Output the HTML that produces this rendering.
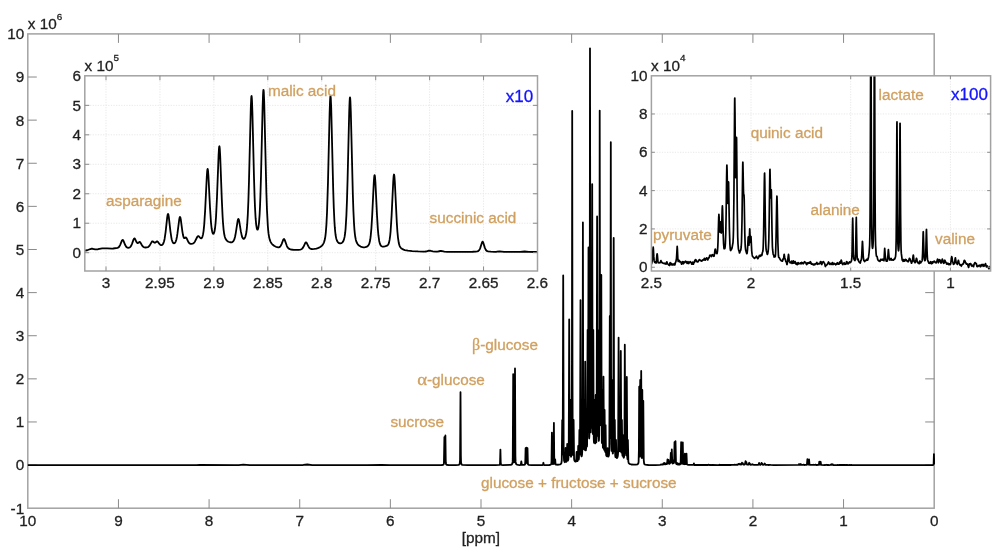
<!DOCTYPE html>
<html lang="en">
<head>
<meta charset="utf-8">
<title>1H NMR spectrum</title>
<style>
html,body{margin:0;padding:0;background:#fff;}
body{width:1000px;height:552px;overflow:hidden;font-family:"Liberation Sans",Arial,Helvetica,sans-serif;}
svg{display:block;}
</style>
</head>
<body>
<svg width="1000" height="552" viewBox="0 0 1000 552">
<rect width="1000" height="552" fill="#fff"/>
<g id="main">
<g stroke="#8a8a8a" stroke-width="1" fill="none" shape-rendering="auto">
<rect x="27.8" y="33.9" width="906.4" height="474.3" stroke="#a2a2a2" stroke-width="1.5"/>
<path d="M843.56 508.2v-9M843.56 33.9v9M752.92 508.2v-9M752.92 33.9v9M662.28 508.2v-9M662.28 33.9v9M571.64 508.2v-9M571.64 33.9v9M481 508.2v-9M481 33.9v9M390.36 508.2v-9M390.36 33.9v9M299.72 508.2v-9M299.72 33.9v9M209.08 508.2v-9M209.08 33.9v9M118.44 508.2v-9M118.44 33.9v9M27.8 465.08h9M934.2 465.08h-9M27.8 421.96h9M934.2 421.96h-9M27.8 378.85h9M934.2 378.85h-9M27.8 335.73h9M934.2 335.73h-9M27.8 292.61h9M934.2 292.61h-9M27.8 249.49h9M934.2 249.49h-9M27.8 206.37h9M934.2 206.37h-9M27.8 163.25h9M934.2 163.25h-9M27.8 120.14h9M934.2 120.14h-9M27.8 77.02h9M934.2 77.02h-9"/>
</g>
<clipPath id="cm"><rect x="27.8" y="33.9" width="907.4" height="474.3"/></clipPath>
<path clip-path="url(#cm)" d="M27.8 465.11L196.3 465.14L199.8 465L234.8 465.15L238.8 465.05L243.3 464.55L249.8 465.13L296.8 465.13L303.3 464.98L307.3 464.51L312.3 465.04L325.8 465.16L328.8 465.03L367.3 465.15L381.3 465.01L389.8 465.15L441.8 465.01L443.2 464.81L443.6 464.55L443.92 463.47L444.4 437.05L444.72 459.36L444.84 462.11L444.92 462.35L444.96 462.1L445.4 435.5L445.72 459.55L445.84 462.95L446.08 464.25L446.72 464.84L448.3 465.01L455.8 465.04L458.58 464.86L459.3 464.51L459.74 463.68L460.06 460.02L460.5 392.24L460.86 455.77L461.06 462.47L461.54 464.3L462.1 464.82L467.8 465.14L495.3 465.14L499.32 464.93L499.84 464.53L500.04 463.07L500.4 449.53L500.72 462.26L501.04 464.63L501.6 464.94L502.8 465.05L510.8 464.86L511.8 464.42L512.32 463.58L512.64 461.64L512.76 458.63L513.2 374.03L513.6 456.12L513.88 461.97L514.04 462.43L514.24 462.25L514.48 460.32L514.72 440.18L515 368.45L515.4 455.96L515.6 461.89L516.12 464.05L516.88 464.68L518.3 464.95L519.3 465.05L520.82 464.84L521.3 461.49L521.82 464.88L524.08 464.96L524.74 464.76L525.02 464.43L525.3 461.3L525.6 448.25L526.06 462.84L526.5 447.59L526.9 462.86L527.06 463.21L527.18 461.63L527.5 448.22L527.86 462.79L528.06 464.37L528.42 464.76L528.86 464.93L531.3 465.06L542.56 465.07L543.04 464.75L543.4 462.77L543.72 464.66L544.32 465.04L549.3 465L550.82 464.68L551.34 463.74L551.54 460.78L551.9 432.56L552.3 461.79L552.5 463.79L552.66 464.11L553.02 464.11L553.36 463.13L553.54 459.5L553.9 422.8L554.2 455.84L554.46 463.39L554.7 463.92L554.88 463.54L555.2 459.49L555.54 464.01L555.84 464.66L558.3 464.73L560.3 464.27L560.88 463.9L561.44 462.94L561.76 460.35L562.2 420.06L562.52 451.99L562.64 454.47L562.72 452.3L563.2 275.5L563.68 453.61L564.04 460.45L564.56 462.03L564.84 462.19L565.08 461.84L565.3 459.4L565.6 448.02L565.96 460.47L566.12 461.68L566.44 461.75L566.72 461.06L566.84 459.71L567.2 444.02L567.64 460.15L567.88 460.63L568.32 459.55L568.72 453.9L569.2 319.29L569.68 452.52L569.88 455.16L570.04 451.13L570.4 399.98L570.8 453.66L570.96 456.53L571.04 456.74L571.12 456.64L571.3 455.74L571.68 446.16L571.92 372.37L572.2 110.96L572.48 372.4L572.72 446.2L572.96 453.97L573.12 455.06L573.24 453.05L573.6 419.97L574.08 458.84L574.36 460.42L574.72 461.07L575.28 461.54L575.8 461.56L576.12 461.25L576.6 451.97L576.96 460.37L577.12 461.14L577.48 461.14L577.76 460.33L577.88 458.57L578.2 445.96L578.56 458.63L578.74 459.51L578.98 457.94L579.4 430.01L579.74 453.15L579.9 454.28L580.04 450.18L580.5 300.04L580.94 448.41L581.14 454.69L581.3 455.84L581.58 456.37L581.8 456L582.1 454.08L582.38 448.01L582.62 398.18L582.9 222.41L583.2 406.35L583.44 446.71L583.62 449L583.76 444.9L584.1 400.06L584.44 445.22L584.6 449.79L584.78 446.46L585.2 361.6L585.64 447.13L585.86 450.45L586.14 447.81L586.5 420.01L586.82 444.11L586.94 446.61L587.1 444.78L587.6 330L588.06 429.89L588.5 247.5L588.86 420.95L589.02 436.8L589.18 438.48L589.38 435.33L589.68 375.5L590 48.28L590.48 424.12L590.68 432.3L590.84 422.83L591.2 299.96L591.52 414.69L591.64 427.83L591.78 421.7L592.2 184.17L592.62 423.79L592.8 433.89L592.96 424.9L593.3 329.94L593.64 428.41L593.78 439.78L594.04 442.94L594.3 435.89L594.6 400L594.94 438.96L595.08 443.19L595.18 443.4L595.28 442L595.7 395L596.08 439.92L596.2 442.43L596.36 442.15L596.62 435.24L597.1 216.47L597.54 429.95L597.72 435.88L597.86 426.49L598.2 330.03L598.58 433.25L598.8 440.89L599 439.76L599.16 434.94L599.4 376.08L599.7 110.6L600.14 414.79L600.5 349.95L600.78 417.62L600.86 425.23L600.94 420.86L601.3 275.01L601.6 412.62L601.82 442.11L601.96 443.17L602.08 437.83L602.4 390.02L602.74 441.73L602.88 447.37L602.98 447.75L603.08 445.63L603.5 376.71L603.96 448.47L604.14 449.83L604.28 445.25L604.6 409.99L605.02 450.74L605.16 451.78L605.28 449.04L605.6 425.03L605.96 451.96L606.16 455.07L606.6 456.17L607.08 456.27L607.24 455.67L607.6 448.04L607.88 454.66L608.12 456.47L608.3 456.59L608.52 456.42L608.96 455.11L609.32 449.51L609.8 316.01L610.12 426.14L610.2 436.31L610.24 438.05L610.32 436.26L610.8 142.19L611.08 377.63L611.32 443.98L611.64 450.97L611.84 445.61L612.2 380.03L612.58 448.33L612.7 452.68L612.82 453.54L612.92 453.36L613.24 445.2L613.7 237.98L614.12 441.1L614.26 450.19L614.36 451.36L614.44 450.22L614.8 419.99L615.12 451.29L615.24 455.6L615.44 457.03L615.68 454.84L616 439.98L616.48 457.5L616.64 457.97L617 458.02L617.64 456.84L617.96 454.96L618.12 451.72L618.6 337.65L618.9 431.17L619.14 451.08L619.4 443.36L619.7 399.98L620.04 446.73L620.2 451.43L620.38 447.64L620.8 350.88L621.28 450.98L621.44 452.67L621.58 449.14L621.9 420.01L622.34 454.75L622.52 455.76L622.66 454L623 435.04L623.4 456.21L623.54 457.45L623.66 457.72L623.86 457.67L624.24 455.52L624.48 439.09L624.8 344.68L625.28 452.62L625.32 453.3L625.4 452.75L625.48 449.18L625.8 409.99L626.12 450.25L626.26 455.26L626.4 452.41L626.8 377.02L627.26 456.94L627.44 459.17L627.58 457.33L627.9 440.02L628.32 461.33L628.7 463.07L629.58 463.98L631.3 464.51L633.8 464.72L635.8 464.71L637.44 464.45L638.2 463.69L638.6 461.97L638.88 450.19L639.2 386.7L639.52 448.56L639.72 456.62L640.2 379.99L640.5 444.23L640.72 455.74L641.2 370.95L641.68 457.18L641.78 458.01L641.86 456.81L641.98 449.22L642.3 390.01L642.74 457.09L642.82 457.97L642.88 457.02L642.98 451.43L643.3 400.97L643.74 460.05L644.1 463.46L644.5 464.25L645.22 464.62L648.3 464.99L655.3 465.06L660.07 464.84L660.82 464.69L661.02 464.48L661.67 464.59L662.41 464.36L662.66 464.55L663.26 464.36L663.7 463.12L664.16 464.4L664.67 462.99L664.92 463.62L665.11 463.45L665.37 464.16L665.63 464.35L665.93 464.06L666.18 463.38L666.38 463.6L666.59 463.42L666.88 463.96L667.09 463.77L667.49 459.39L667.95 463.72L668.21 463.05L668.5 459.82L668.8 462.83L668.86 462.96L669 462.81L669.25 463.62L669.5 463.82L670.02 462.57L670.27 462.98L670.42 462.58L670.81 452.83L671.12 460.93L671.22 462.1L671.32 462.27L671.37 462.14L671.81 449.49L672.26 462.65L672.56 463.45L672.85 463.56L672.95 463.43L673.4 460.08L673.85 463.01L674.05 462.32L674.2 459.33L674.51 442.15L674.81 458.73L674.96 461.5L675.06 461.59L675.11 461.11L675.51 441.17L675.96 462.64L676.11 463.54L676.44 464.12L676.84 464.28L677.24 463.02L677.54 464.27L677.94 464.69L678.68 464.55L679.09 463.52L679.43 464.46L679.8 464.59L680.39 464.09L680.64 463.31L681.14 442.17L681.44 459.45L681.74 463.48L681.93 463.71L682.18 463.51L682.38 462.1L682.78 442.31L683.08 459.54L683.38 463.68L683.53 463.99L684.1 464.32L684.45 463.49L684.85 453.73L685.25 463.46L685.5 464.16L686 463.87L686.48 453.63L686.93 464L687.3 464.62L688.62 464.91L693.27 464.91L693.62 464.68L693.92 463.45L694.22 464.7L694.51 464.99L707.96 465.01L708.41 464.64L709.36 465.04L710.18 464.78L711.1 465.04L711.9 464.87L712.3 465.01L717.8 465.03L719.18 464.88L719.43 464.63L719.83 465L720.03 464.87L731.07 465L731.42 464.81L733.69 464.93L734.24 464.75L736.29 464.84L736.54 464.66L737.45 464.82L737.83 464.64L738.3 463.86L738.68 464.31L739.15 464.07L739.45 464.36L739.9 463.69L740.36 464.5L740.86 464.71L741.4 464.42L741.95 462.7L742.35 463.67L742.77 463.18L743.27 464.53L744.3 464.71L744.93 464.27L745.55 461.25L745.9 462.96L746.03 463.11L746.35 462.11L746.8 464.22L747.15 464.69L748.5 464.65L749.2 462.74L749.54 463.4L749.85 463.52L750.24 464.57L750.93 464.83L751.38 464.72L751.73 464.37L751.98 464.62L752.33 464.16L752.58 464.55L752.92 464.4L753.57 464.86L756.2 464.79L757.2 464.93L758.3 464.77L758.68 464.19L759.08 462.93L759.58 464.48L760.03 464.8L760.53 464.78L761.08 464.36L761.53 462.88L761.8 463.41L762.22 463.42L762.62 464.61L763.12 464.82L764.1 464.7L764.7 463.51L765.4 464.77L767.32 464.95L767.97 464.79L768.37 464.98L769.26 464.99L769.96 464.79L770.46 464.96L773.8 465.03L798.4 464.93L798.8 464.8L799.15 463.97L799.45 464.71L799.8 464.95L800.43 464.82L800.78 464.01L801.28 464.92L803.14 464.94L803.64 464.59L804.34 465L805.3 464.97L806.45 464.85L806.95 464.42L807.39 459.23L807.89 464.53L808.3 464.65L808.63 464.23L809.03 459.36L809.53 464.51L809.88 464.82L811.8 464.92L813.34 464.94L813.64 464.68L813.99 464.89L814.82 464.96L815.42 464.67L816.22 465L818.62 464.83L818.97 464.2L819.27 461.74L819.77 464.73L820.17 464.68L820.3 464.44L820.67 461.78L820.97 464.18L821.22 464.83L824.43 465.03L825.03 464.82L825.61 465.01L826.66 464.77L827.3 465L828.15 464.87L829 465.03L830.68 464.95L831.23 464.3L831.68 464.92L832.13 464.95L832.68 464.29L833.28 465.01L837.22 465.03L837.62 464.88L837.87 465.05L839.5 464.88L843.84 465.01L844.3 464.82L845.13 465.04L845.83 464.87L846.63 465.06L846.99 464.91L848.8 465.06L849.86 464.9L851.17 465.06L851.42 464.91L851.67 465.05L855.34 465.08L878.8 465.14L932.4 465.1L933.36 464.81L933.6 464.16L933.93 454.1L934.2 463.54" fill="none" stroke="#000" stroke-width="1.8" stroke-linejoin="round" stroke-linecap="round"/>
<g font-family="'Liberation Sans', Arial, Helvetica, sans-serif" font-size="15.3" fill="#1f1f1f" stroke="#1f1f1f" stroke-width="0.3">
<g text-anchor="middle">
<text x="934.2" y="525.5">0</text>
<text x="843.56" y="525.5">1</text>
<text x="752.92" y="525.5">2</text>
<text x="662.28" y="525.5">3</text>
<text x="571.64" y="525.5">4</text>
<text x="481" y="525.5">5</text>
<text x="390.36" y="525.5">6</text>
<text x="299.72" y="525.5">7</text>
<text x="209.08" y="525.5">8</text>
<text x="118.44" y="525.5">9</text>
<text x="27.8" y="525.5">10</text>
<text x="480.8" y="542.7">[ppm]</text>
</g>
<g text-anchor="end">
<text x="24.2" y="513.6">-1</text>
<text x="24.2" y="470.48">0</text>
<text x="24.2" y="427.36">1</text>
<text x="24.2" y="384.25">2</text>
<text x="24.2" y="341.13">3</text>
<text x="24.2" y="298.01">4</text>
<text x="24.2" y="254.89">5</text>
<text x="24.2" y="211.77">6</text>
<text x="24.2" y="168.65">7</text>
<text x="24.2" y="125.54">8</text>
<text x="24.2" y="82.42">9</text>
<text x="24.2" y="39.3">10</text>
</g>
<text x="27.8" y="29.2">x 10<tspan dy="-9.7" font-size="9.9">6</tspan></text>
</g>
</g>
<g id="inset1">
<rect x="84.8" y="75.8" width="452.7" height="195.2" fill="#fff"/>
<path d="M106 75.8V271M159.94 75.8V271M213.88 75.8V271M267.81 75.8V271M321.75 75.8V271M375.69 75.8V271M429.62 75.8V271M483.56 75.8V271M84.8 252.7H537.5M84.8 223.23H537.5M84.8 193.76H537.5M84.8 164.29H537.5M84.8 134.82H537.5M84.8 105.35H537.5" stroke="#e9e9e9" stroke-width="1" stroke-dasharray="1.3 1.3" fill="none"/>
<clipPath id="c1"><rect x="84.8" y="75.8" width="452.7" height="195.2"/></clipPath>
<path clip-path="url(#c1)" d="M84.8 250.71L87.2 250.25L90.4 249.01L91.6 248.72L92.6 248.76L95.2 249.33L96.6 249.41L98 249.24L100.8 248.57L102.2 248.37L107.4 248.4L111.8 248.6L113.2 248.49L117.6 247.87L118.6 247.32L119.4 246.36L120.2 244.82L121.8 240.81L122.2 240.14L122.6 239.89L123 240.09L123.4 240.7L125.2 245.08L126.2 246.75L126.8 247.33L127.4 247.66L128.2 247.82L129 247.73L130 247.22L130.6 246.6L131 246.02L132 243.87L133.6 239.4L134 238.69L134.4 238.41L134.6 238.45L135 238.87L136.4 241.82L136.8 242.49L137.2 242.92L137.4 243.03L137.8 243.07L138.2 242.89L139.4 241.96L139.8 241.96L140 242.07L140.6 242.83L141.8 245.05L142.6 246.23L143.4 246.96L144.4 247.38L145.6 247.5L146.8 247.41L147.8 247.15L148.6 246.71L149.6 245.67L151.6 242.15L152 241.62L152.4 241.35L152.6 241.33L153 241.48L154.2 242.51L154.8 242.73L155.4 242.57L156.8 241.45L157.2 241.35L157.4 241.4L158 241.9L159.4 243.9L160.2 244.75L161 245.14L161.6 245.15L162 245.01L162.8 244.31L163.4 243.28L164 241.57L164.6 238.94L165.6 232.04L167.2 217.41L167.6 214.98L167.8 214.28L168 213.99L168.2 214.12L168.4 214.66L168.8 216.83L170.4 231.04L171.4 237.87L171.8 239.7L172.4 241.59L172.8 242.39L173.4 243.08L173.8 243.27L174.2 243.28L174.6 243.12L175 242.78L175.4 242.2L175.8 241.34L176.4 239.39L177 236.46L177.4 233.93L179.2 219.76L179.6 217.7L179.8 217.13L180 216.92L180.2 217.08L180.4 217.6L180.8 219.55L182.4 231.62L183 235.05L183.4 236.61L183.8 237.6L184.2 238.06L184.6 238.11L185.6 237.51L186 237.51L186.2 237.64L186.8 238.56L188.4 242.02L189.2 243.1L190 243.65L190.6 243.82L191.2 243.86L192.6 243.6L193.2 243.33L193.8 242.91L194.4 242.29L195 241.45L197.2 237.01L197.6 236.4L198 236.07L198.4 236.03L198.8 236.26L200 237.62L200.6 238.16L201.2 238.33L201.6 238.15L202 237.68L202.4 236.84L203 234.63L203.6 230.84L204.2 224.93L205.2 209.38L206.8 176.49L207.2 171.08L207.4 169.56L207.6 168.94L207.8 169.28L208 170.55L208.4 175.5L210 207.42L211 222.61L211.6 228.24L212.2 231.67L212.8 233.4L213.2 233.81L213.4 233.83L213.6 233.71L214 233.07L214.4 231.82L215 228.49L215.6 222.8L216 217.34L217 197.07L218.6 154.87L219 148.37L219.2 146.72L219.4 146.28L219.6 147.09L219.8 149.11L220.2 156.22L221.8 199.35L222.6 216.45L223 222.73L223.6 229.59L224.2 234.01L224.8 236.76L225.4 238.48L226.2 239.89L227.2 240.95L228.4 241.73L230 242.27L231.4 242.36L232 242.25L232.6 241.97L233.4 241.21L234.2 239.67L235 236.96L235.8 232.83L237.6 221.08L238 219.51L238.2 219.11L238.4 218.98L238.6 219.15L238.8 219.59L239.2 221.2L240.8 231.18L241.8 235.91L242.4 237.6L243 238.53L243.6 238.81L244.2 238.58L244.8 237.85L245.4 236.52L246 234.29L246.4 232.03L246.8 228.85L247.2 224.45L247.8 214.77L248.4 200.42L249 180.83L250.8 107.9L251.2 98.49L251.4 96.32L251.6 96.05L251.8 97.68L252 101.12L252.4 112.5L254 177.69L254.6 197.24L255 207.3L255.6 218.19L256.2 224.87L256.8 228.43L257.2 229.51L257.4 229.71L257.6 229.71L258 229.06L258.4 227.47L259 222.87L259.6 214.7L260 206.69L260.4 196.29L261 176.02L262.6 107.75L263 95.58L263.2 91.82L263.4 89.94L263.6 90.05L263.8 92.17L264.2 101.79L266.4 193.22L267 210.47L267.8 225.53L268.2 230.38L268.6 233.92L269.2 237.54L269.8 239.86L270.6 241.86L271.6 243.49L272.8 244.82L274.4 246.02L276 246.79L277.6 247.25L278.8 247.28L279.4 247.1L279.8 246.87L280.4 246.28L281 245.36L281.6 244.06L283.2 239.84L283.6 239.2L284 239L284.4 239.33L284.8 240.1L286.8 245.82L287.4 247.06L288 247.94L288.8 248.68L289.8 249.17L291.2 249.5L293.2 249.74L296 249.87L298.6 249.83L300.2 249.65L301.4 249.24L302.2 248.64L303 247.63L303.6 246.56L305.2 243.15L305.6 242.6L306 242.39L306.4 242.56L306.8 243.08L308.4 246.35L309 247.36L309.6 248.1L310.2 248.59L311.2 248.99L312.4 249.11L314.4 248.95L316.4 248.58L317.8 248.18L319 247.71L320.2 247.07L321.2 246.35L322 245.6L322.8 244.62L323.4 243.64L324 242.31L324.6 240.39L325 238.55L325.4 236.04L325.8 232.58L326.4 224.88L327 213.07L328 181.87L329.6 113.76L330 101.71L330.2 97.99L330.4 96.12L330.6 96.22L330.8 98.28L331.2 107.66L333.2 189.57L333.8 207.95L334.4 221.03L334.8 227.2L335.2 231.74L335.6 235.02L336 237.36L336.4 239.04L337 240.73L337.8 242.08L338.6 242.86L339.2 243.21L339.8 243.39L340.6 243.4L341.2 243.24L341.8 242.93L342.4 242.42L343 241.66L343.4 240.95L344 239.4L344.6 236.89L345.2 232.75L345.6 228.6L346.4 215.38L347 199.88L347.6 179.07L349.2 112.28L349.6 101.47L349.8 98.49L350 97.4L350.2 98.27L350.4 101.04L350.8 111.53L352.8 193.09L353.4 210.72L354 223.19L354.4 229.05L354.8 233.37L355.2 236.51L355.8 239.69L356.4 241.71L357 243.07L357.8 244.32L359 245.55L360.6 246.55L362.4 247.14L363.4 247.28L364.4 247.3L365.4 247.19L366.2 246.99L367.4 246.41L368.4 245.42L369.2 243.88L369.8 241.83L370.2 239.78L370.6 236.98L371.4 228.43L372.2 215.31L373.8 182.39L374.2 177.09L374.4 175.64L374.6 175.12L374.8 175.56L375 176.95L375.4 182.14L377 215.09L377.8 228.35L378.4 235.24L379.2 240.97L379.8 243.41L380.4 244.87L381.2 245.93L381.6 246.23L382.2 246.51L383 246.66L383.8 246.62L384.8 246.41L386.4 245.91L387 245.64L387.6 245.23L388 244.8L388.4 244.17L389 242.61L389.6 239.92L390.2 235.5L390.6 231.29L391.6 215.6L393.2 182.18L393.6 176.68L393.8 175.13L394 174.53L394.2 174.92L394.4 176.26L394.8 181.46L396.8 222.54L397.4 231.48L398 237.82L398.8 243.02L399.2 244.63L399.6 245.81L400.2 247.02L400.8 247.82L401.6 248.56L402.6 249.19L403.6 249.65L404.8 250.05L408 250.7L412.2 251.14L418.2 251.43L423 251.54L425.4 251.49L426.8 251.3L428.8 250.74L429.6 250.63L430.4 250.74L432.8 251.44L435.2 251.65L437.6 251.55L440.2 251L441 250.93L444.4 251.63L447.2 251.79L467.4 251.85L472.6 251.76L475.8 251.59L477.2 251.38L478 251.12L478.6 250.75L479.2 250.12L479.8 249.08L480.2 248.13L482 242.4L482.4 241.73L482.6 241.65L482.8 241.75L483.2 242.44L484.8 247.62L485.6 249.52L486 250.15L486.6 250.77L487.2 251.14L488.2 251.44L490.8 251.7L494.8 251.81L496.6 251.73L499.8 251.37L504 251.87L512.4 251.95L520.2 251.92L524.6 251.51L528.8 251.93L537.4 251.99" fill="none" stroke="#000" stroke-width="1.8" stroke-linejoin="round" stroke-linecap="round"/>
<g stroke="#8a8a8a" stroke-width="1" fill="none">
<rect x="84.8" y="75.8" width="452.7" height="195.2" stroke="#a2a2a2" stroke-width="1.5"/>
<path d="M106 271v-4.5M106 75.8v4.5M159.94 271v-4.5M159.94 75.8v4.5M213.88 271v-4.5M213.88 75.8v4.5M267.81 271v-4.5M267.81 75.8v4.5M321.75 271v-4.5M321.75 75.8v4.5M375.69 271v-4.5M375.69 75.8v4.5M429.62 271v-4.5M429.62 75.8v4.5M483.56 271v-4.5M483.56 75.8v4.5M84.8 252.7h4.5M537.5 252.7h-4.5M84.8 223.23h4.5M537.5 223.23h-4.5M84.8 193.76h4.5M537.5 193.76h-4.5M84.8 164.29h4.5M537.5 164.29h-4.5M84.8 134.82h4.5M537.5 134.82h-4.5M84.8 105.35h4.5M537.5 105.35h-4.5"/>
</g>
<g font-family="'Liberation Sans', Arial, Helvetica, sans-serif" font-size="15.3" fill="#1f1f1f" stroke="#1f1f1f" stroke-width="0.3">
<g text-anchor="middle">
<text x="106" y="288.1">3</text>
<text x="159.94" y="288.1">2.95</text>
<text x="213.88" y="288.1">2.9</text>
<text x="267.81" y="288.1">2.85</text>
<text x="321.75" y="288.1">2.8</text>
<text x="375.69" y="288.1">2.75</text>
<text x="429.62" y="288.1">2.7</text>
<text x="483.56" y="288.1">2.65</text>
<text x="537.5" y="288.1">2.6</text>
</g>
<g text-anchor="end">
<text x="81" y="257.9">0</text>
<text x="81" y="228.43">1</text>
<text x="81" y="198.96">2</text>
<text x="81" y="169.49">3</text>
<text x="81" y="140.02">4</text>
<text x="81" y="110.55">5</text>
<text x="81" y="81.08">6</text>
</g>
<text x="84.5" y="70.6">x 10<tspan dy="-9.7" font-size="9.9">5</tspan></text>
</g>
<g font-family="'Liberation Sans', Arial, Helvetica, sans-serif" font-size="15.3" fill="#d0a060" stroke="#d0a060" stroke-width="0.3">
<text x="106.1" y="205.6">asparagine</text>
<text x="267.9" y="95.9">malic acid</text>
<text x="429.6" y="223.3">succinic acid</text>
</g>
<text x="505.7" y="102" font-family="'Liberation Sans', Arial, Helvetica, sans-serif" font-size="17" fill="#1414ff" stroke="#1414ff" stroke-width="0.3">x10</text>
</g>
<g id="inset2">
<rect x="651.4" y="75.8" width="339.2" height="195.2" fill="#fff"/>
<path d="M751 75.8V271M850.7 75.8V271M950.4 75.8V271M651.4 267.25H990.6M651.4 228.93H990.6M651.4 190.61H990.6M651.4 152.29H990.6M651.4 113.97H990.6" stroke="#e9e9e9" stroke-width="1" stroke-dasharray="1.3 1.3" fill="none"/>
<clipPath id="c2"><rect x="651.4" y="75.8" width="339.2" height="195.2"/></clipPath>
<path clip-path="url(#c2)" d="M651.4 264.12L651.9 262.62L652.3 259.95L653 248.7L653.2 246.99L653.4 249.02L653.8 256.64L654.1 260.38L654.3 261.51L654.9 262.52L655 262.57L655.1 262.47L655.4 261.86L655.5 261.84L655.9 262.89L656 263L656.1 262.88L656.3 261.83L656.9 254.97L657.1 253.8L657.2 253.94L657.4 255.37L658 262L658.2 262.65L658.5 262.45L658.6 262.47L659 262.92L659.9 262.37L660.3 262.57L660.4 262.54L660.9 260.5L661 260.58L661.3 261.93L661.5 262.45L661.8 262.15L662.5 262.99L663.4 263.31L663.7 263.14L664.3 263.58L665 263.23L665.4 263.88L665.8 263.92L666.2 264.14L666.7 262.06L666.8 261.85L666.9 261.83L667.4 263.39L667.9 264.06L668.3 264.4L668.7 265.02L669 265.11L669.4 265.48L669.6 264.94L669.9 263.24L670.1 262.65L670.2 262.66L670.3 262.83L670.8 264.66L670.9 264.64L671.2 263.72L671.3 263.5L671.4 263.47L671.9 264.77L672.1 265.02L672.3 264.92L672.8 264.02L673.2 264.19L673.5 264.7L673.7 264.83L674.2 263.73L674.7 264.97L674.9 264.7L675.4 262.57L675.9 261.54L676.5 258.45L677.2 246.28L677.4 248.71L677.8 258L678.1 261.17L678.2 261.45L678.3 261.44L678.9 260.51L679.2 260.38L679.8 261.81L679.9 261.81L680.2 261.48L680.3 261.48L680.7 262.01L681 262.21L681.4 263.82L681.6 264.21L682 262.43L682.2 262L682.5 261.92L682.7 261.66L682.8 261.68L683.3 263.77L683.4 263.72L683.7 262.42L683.9 261.93L684.4 262.52L684.7 262.61L684.9 262.42L685.2 261.54L685.4 261.25L685.8 261.75L686.2 261.58L686.4 261.69L687 263.17L687.2 263.43L687.4 263.11L687.8 261.81L687.9 261.61L688 261.62L688.5 263.21L688.7 263.59L690 261.61L690.2 261.6L691.1 262.55L691.7 264.08L691.9 264.22L692.2 263.62L692.6 262.22L692.7 262.02L692.8 262.05L693.2 263.84L693.3 264.12L693.4 264.13L693.9 262.61L694.2 262.68L694.3 262.51L694.8 260.47L695 260.14L695.3 260.08L695.7 259.54L695.8 259.55L696 259.96L696.4 261.47L696.6 261.53L697 261.27L697.3 261.83L697.5 261.96L698.2 261.68L698.7 260.54L699.4 259.64L699.5 259.6L699.6 259.68L700 260.25L700.5 260.32L700.8 260.52L701.3 261.11L701.8 260.58L702.2 260.81L702.6 260.11L703.3 259.71L703.4 259.7L703.6 259.94L703.8 260.01L704 259.67L704.3 258.59L704.4 258.35L704.5 258.32L705 259.75L705.3 260.1L705.5 259.97L706 258.79L706.5 258.01L706.6 257.92L706.9 258.02L707.1 258.24L707.7 259.97L707.9 259.63L708.4 258.04L708.7 257.72L709 257.91L709.1 257.9L709.2 257.74L709.7 255.42L709.9 255.16L710.4 255.29L710.8 255.54L711.5 256.54L711.7 256.28L712.1 254.77L712.3 254.53L713.3 255.55L713.8 256.33L713.9 256.39L714 256.33L714.4 254.54L714.9 250.53L715.2 249.17L715.3 249.09L715.5 249.65L715.9 252.32L716.1 253.07L716.2 253.11L716.4 252.95L716.8 253.58L716.9 253.64L717 253.56L717.2 252.91L717.5 250.97L717.8 246.66L718 241.97L718.7 217.2L718.9 214.42L719.1 216.88L719.5 227.95L719.7 231.25L719.8 231.95L719.9 232L720 231.31L720.4 223.71L720.6 221.79L721.2 232.47L721.3 233.03L721.4 232.68L721.7 226.53L722.2 208.61L722.4 205.91L722.6 209.44L723.2 234.32L723.6 243.84L724 248.36L724.2 248.77L724.8 248.56L725.1 247.07L725.4 243.34L725.8 232.37L726.1 215.86L726.6 176.53L726.8 166.44L726.9 165.12L727.1 170.36L727.6 199L727.8 203.52L727.9 203.13L728 201.01L728.4 184.13L728.5 181.91L728.6 182.31L729.4 229.12L729.9 244.29L730.2 248.5L730.5 250.26L730.7 250.62L730.8 250.56L731.3 249.08L731.4 249L731.6 249.14L731.7 249.1L732 248.08L733 242.49L733.3 237.02L733.5 229.44L733.9 198.25L734.6 104.39L734.7 98.54L734.8 98.04L735 111.91L735.4 159.1L735.7 177.29L735.8 177.65L736 170.09L736.4 140.21L736.5 137.24L736.6 138.78L737.3 211.89L737.7 236.77L738 243.95L738.4 248.81L738.6 249.88L739 250.79L739.5 253.01L739.6 252.98L739.7 252.72L740.2 251.11L740.6 250.54L740.9 249.32L741.2 246.98L741.5 242L742 220.55L742.7 165.77L742.8 162.43L742.9 162.21L743.5 191.36L743.7 195.15L743.8 195.23L743.9 194.81L744 194.77L744.2 199.06L744.8 233.54L745.1 243.36L745.3 246.87L745.6 249.76L746.5 252.96L746.8 253.61L747 253.46L747.2 252.63L747.5 249.9L748.2 236.98L748.3 236.81L748.4 237.8L748.8 244.86L748.9 245.24L749 244.77L749.7 228.96L749.8 229.66L750.3 241.81L750.4 242.47L750.5 242.22L750.9 236.84L751 236.53L751.7 250.8L752.1 254.43L752.5 256.46L753.3 257.16L753.8 257.83L754.1 257.87L754.5 258.35L755.2 257.83L755.6 257.23L755.9 257.15L756.3 256.3L756.5 256.21L757.1 257.4L757.4 258.24L757.6 258.57L757.8 258.68L758.2 258.24L759.4 255.44L759.5 255.42L759.6 255.57L760 256.46L760.2 256.27L761.2 254.62L761.4 254.72L761.8 255.52L762 254.87L762.4 252.43L762.8 251.66L763 250.21L763.2 247L763.6 233.77L764.3 182.98L764.5 173.53L764.6 173.06L764.8 180.83L765.4 226.27L765.8 244.13L766 248.09L766.3 250.66L766.8 252.35L767.2 254.22L767.4 254.39L767.7 253.72L768.1 251.62L768.4 248.63L768.8 240.21L769.2 219.26L769.8 173.2L769.9 169.75L770 169.31L770.5 192.14L770.7 197.62L770.8 197.89L770.9 196.7L771.2 189.92L771.3 189.69L771.4 191.9L772 230.51L772.4 246.53L772.6 249.46L773.1 253.72L773.3 254.57L773.6 254.84L773.7 255.11L774 256.63L774.2 257.06L774.4 256.86L774.7 256.01L774.8 256.05L775.1 256.76L775.2 256.74L775.3 256.43L775.5 254.48L775.7 250.5L776.1 235.41L776.7 201.79L776.9 196.08L777 196.54L777.2 203.89L777.9 242.94L778.4 255.22L778.7 257.36L778.8 257.5L779.2 257.55L779.3 257.67L780.4 259.96L780.8 260.1L781.2 260.72L781.5 260.5L781.6 260.54L781.9 260.99L782.2 261.22L782.3 261.19L782.6 260.69L783.1 258.75L783.2 258.72L783.4 258.94L783.5 258.93L783.7 258.11L784 255.23L784.2 254.28L784.8 257.94L785.3 259.33L785.9 261.73L786 261.88L786.3 261.75L786.4 261.92L786.8 264.17L786.9 264.55L787 264.61L787.2 263.83L788.5 254.32L788.7 255.25L789.2 261.15L789.3 261.59L789.7 262.04L790 262.79L790.2 262.86L790.6 262.34L790.9 262.18L791.3 261.22L791.4 261.2L791.9 263.26L792 263.4L792.1 263.37L792.5 263.04L793 261.11L793.2 260.82L793.4 261.28L793.9 263.18L794.1 262.95L794.4 262.1L794.7 261.85L795 261.37L795.2 261.72L795.6 263.37L795.8 263.8L796.1 264.01L796.5 263.18L796.6 263.14L796.8 263.49L797.2 264.7L797.3 264.67L797.4 264.44L797.8 263.03L798 262.68L798.2 262.67L798.4 262.83L798.7 263.65L798.9 263.89L799.4 263.52L799.9 263.41L800.1 263.48L800.6 262.82L800.8 263.06L801.1 263.85L801.2 263.82L801.6 262.39L801.7 262.28L802.1 263.06L802.2 263.09L802.5 262.78L802.6 262.82L803 263.67L803.2 263.83L803.7 262.86L804 262.6L804.5 261.65L805 262.62L805.2 262.68L805.6 262.41L805.8 262.56L806.4 264.35L806.6 264.7L806.7 264.7L806.9 264.32L807.3 262.98L807.4 262.92L807.8 263.6L807.9 263.6L808.3 262.78L808.6 263.23L808.8 263.23L809.2 262.35L809.6 263.11L809.7 263.23L809.8 263.2L810.2 262.01L810.4 261.75L810.7 262.19L811.1 263.56L811.4 264.14L811.9 263.61L812.3 264.23L812.4 264.28L812.6 264.14L812.8 264.16L813.1 264.71L813.6 264.93L813.8 264.75L814.2 263.93L814.7 264.88L815.3 264.01L815.5 263.92L815.8 263.57L815.9 263.55L816.2 263.86L816.3 263.87L816.5 263.5L816.8 262.5L816.9 262.44L817.4 263.92L817.6 264.25L817.8 264.14L818.3 263.48L818.5 263.5L819.1 263.81L819.7 263.74L820 263.25L820.4 261.71L820.6 261.56L821.1 261.8L821.2 261.99L821.6 264.2L821.7 264.51L821.8 264.55L822.4 262.25L822.6 262.07L823 261.98L823.4 261.63L823.7 262.02L824 262.81L824.7 263.65L825.2 266.07L825.4 266.52L825.8 265.61L826 265.45L826.2 265.42L826.6 265.03L826.9 264.89L827.3 264.21L827.7 263.92L828.3 262.26L828.5 262.02L829 263.45L829.1 263.55L829.2 263.48L829.4 263.12L829.5 263.09L829.9 264.4L830 264.49L830.4 263.62L830.5 263.59L830.8 263.91L830.9 263.87L831.2 263.28L831.3 263.28L831.4 263.48L831.7 264.33L831.8 264.46L831.9 264.42L832.5 262.51L832.6 262.54L832.7 262.79L833.2 264.48L833.4 264.41L833.8 263.78L834.3 263.43L834.5 263.54L834.9 264.14L835.1 264.21L835.3 264.14L835.7 264.88L835.8 264.83L836.1 263.97L836.3 263.67L836.6 264.19L836.7 264.16L837.1 263.03L837.4 262.74L837.6 262.87L838 263.96L838.2 264.19L838.5 263.85L838.9 264.18L839 264.14L839.5 262.45L839.8 261.98L840.1 262.17L840.5 263.11L840.7 262.53L841 260.6L841.2 260.08L841.5 260.81L842.1 263.41L842.7 264.53L842.8 264.57L842.9 264.47L843.2 263.92L843.6 263.8L844 262.94L844.2 262.77L844.6 264.07L844.8 264.43L844.9 264.4L845.3 263.78L845.6 264.15L845.8 264.17L846.5 261.82L846.7 261.57L847 261.81L847.7 263.71L847.9 263.84L848.3 263.84L848.5 263.57L848.9 262.65L849.4 261.96L849.6 261.94L850 262.73L850.4 262.38L850.8 262.26L851.1 261.53L851.4 261.11L851.7 259.52L851.9 256.6L852.1 250.38L852.5 225.48L852.7 218.11L852.9 225.33L853.3 249.7L853.5 255.66L853.8 258.48L854.2 259.7L854.6 260.13L854.9 260.63L855 260.6L855.2 259.98L855.4 258.17L855.6 253.8L856.1 223.71L856.3 217.34L856.9 250.03L857.1 256.17L857.4 259.5L857.5 259.64L857.8 258.95L858 258.78L858.7 261.35L859.5 262.6L859.9 262.63L860.2 263L860.4 262.65L860.8 260.76L861.2 260.05L861.5 258.35L861.7 256.17L862.4 241.41L862.5 241.48L862.6 242.8L863.2 255.62L863.5 258.96L863.7 260.18L863.9 260.61L864.6 261.59L865.2 260.4L865.4 260.37L865.9 260.53L866.4 260.45L867 259.18L867.1 259.21L867.5 260.12L867.6 260.15L867.7 260.05L868.1 258.92L868.6 256.69L869.1 252.49L869.6 245.62L869.9 234.27L870.1 213.6L870.3 171.14L870.8 8.42L870.9 11.27L871 35.57L871.5 200.7L871.7 227.66L871.9 239.34L872.1 244.55L872.3 247.19L872.4 247.89L872.5 248.28L872.6 248.35L872.9 246.69L873.3 240.38L873.6 223.7L873.9 168.92L874.4 11.25L874.5 16.4L874.6 42.04L875 182.14L875.3 230.27L875.6 245.1L876.1 253.6L876.4 256.01L876.6 256.33L876.9 256.31L877.1 256.6L877.8 259.77L878.6 260.81L878.8 260.91L879.1 260.86L879.6 261.03L879.9 261.38L880.1 261.13L880.6 259.29L881.2 259.29L881.7 260.11L882 260.27L882.3 260.16L882.7 259.36L882.9 259.15L883.2 259.45L883.8 260.76L883.9 260.78L884.1 259.46L884.5 251.01L884.7 248.44L885.3 256.06L886 260.27L886.3 261.12L886.8 260.56L887.3 260.99L887.5 260.48L887.8 257.62L888.3 250.06L888.4 249.63L889.1 257.55L889.4 259.14L889.9 260.01L890 260.09L890.1 260.04L890.6 259.03L891.1 258.33L891.7 260.07L891.8 260.08L892.1 259.7L892.5 259.8L893.1 260.14L893.3 260.1L893.6 259.78L893.9 259.18L894 259.13L894.4 259.43L894.6 259.24L895.2 257.87L895.5 256.79L895.7 255L895.9 251.58L896.2 238.19L896.5 199.43L896.8 136.69L896.9 123.34L897 121.91L897.5 211.63L897.7 234.06L897.9 244.07L898.2 248.97L898.4 250.47L898.5 250.76L898.6 250.63L898.8 249.24L899 246.45L899.2 240.55L899.5 213.31L899.9 135.4L900 123.31L900.1 123.3L900.6 212.99L900.9 242.1L901.1 249.75L901.3 253.17L902.1 259.44L902.3 260.31L902.7 260.51L903.1 261.3L903.2 261.21L903.5 259.83L903.6 259.54L903.7 259.51L904.1 260.96L904.2 261.21L904.3 261.21L904.5 261.02L904.8 260.97L904.9 260.85L905.3 259.6L905.5 259.37L905.8 259.76L906.1 259.56L906.2 259.64L906.7 260.97L906.8 260.99L907.1 260.57L907.7 261.72L908 261.51L908.4 261.66L909.3 258.61L909.5 258.25L909.6 258.27L910.1 259.23L910.6 260.72L911 261.54L911.4 263.03L911.5 263.18L911.6 263.14L912 261.96L912.5 260.88L913.1 255.85L913.3 254.99L913.5 255.71L914 261.19L914.1 261.51L914.5 261.03L915 262.73L915.1 262.74L915.2 262.5L915.6 260.79L916 259.79L916.3 258.64L916.5 258.29L916.8 259L917.2 261.56L917.5 262.57L918.1 262.87L918.4 262.48L918.5 262.47L919 263.59L919.1 263.69L919.2 263.65L919.4 263.09L919.7 261.49L919.9 261L920.1 261.38L920.5 262.75L920.7 262.97L921.2 261.84L921.3 261.73L921.6 261.67L921.9 261.08L922.1 260.41L922.3 258.81L922.6 253.19L923.1 234.75L923.2 232.26L923.3 231.73L924.1 257.17L924.4 259.77L924.7 260.55L924.8 260.68L925 260.66L925.2 260.29L925.4 259.38L925.7 256.07L926.3 232.56L926.4 229.84L926.5 229.47L927.1 251.82L927.4 257.82L927.6 259.64L927.9 260.98L928.9 263.06L929.4 262.66L929.5 262.67L929.9 263.43L930 263.47L930.6 261.73L930.7 261.8L931.1 263.05L931.7 263.81L931.8 263.77L931.9 263.49L932.3 261.83L932.4 261.9L932.8 263.01L933.3 261.85L933.5 261.66L933.8 261.56L934.3 261.03L935.2 262.46L935.7 262.62L936.1 262.95L936.6 261.64L936.9 261.41L937 261.17L937.5 259.08L937.6 259.08L937.8 259.71L938.2 262.18L938.4 262.77L938.6 262.26L939.1 260.11L939.3 259.82L939.6 259.69L940 260.09L940.9 262.93L941.1 263.08L941.7 261.59L942.1 259.63L942.3 259.08L942.5 259.48L943.1 262.01L943.5 263.09L943.7 263.37L943.9 263.31L944 263.09L944.6 260.52L944.8 260.17L945 260.43L945.6 262.1L945.7 262.24L946 262.3L946.1 262.44L946.5 263.84L946.7 264.21L946.8 264.15L947.1 263.39L947.4 263.17L947.9 264.07L948.3 263.49L948.4 263.39L948.5 263.44L948.8 264.41L949 264.75L949.2 264.6L949.7 263.79L950.3 264.53L950.5 264.29L950.8 263.2L951.4 257.96L951.7 256.68L951.8 256.71L952 257.54L952.5 261.07L952.9 262.22L953.3 263.9L953.5 264.29L953.7 264.16L954.1 263.36L954.5 263.64L954.6 263.4L955.1 258.96L955.3 257.86L955.4 257.8L956.1 262.12L956.6 263.11L956.9 263.2L957.3 264.35L957.4 264.42L957.5 264.22L958 261.44L958.3 260.37L958.4 260.3L958.6 260.83L959.1 263.02L960 265.06L960.2 265.24L960.5 264.87L960.7 264.79L961.1 265.8L961.3 266.02L961.6 265.71L962.1 264.5L962.5 264.26L962.9 263.84L963.2 264.04L963.4 263.77L964.1 260.82L964.3 260.32L964.4 260.33L965 261.04L965.5 262.85L965.6 262.89L965.8 262.71L965.9 262.76L966.4 264.16L967 264.29L967.3 263.96L967.4 264L968.6 267.46L968.8 266.83L969.1 264.59L969.3 263.79L969.7 264.6L969.8 264.6L970.2 263.83L970.7 263.54L970.9 263.92L971.4 265.5L971.7 266.04L971.9 266.08L972 266.01L972.6 265.23L972.8 265.19L973.2 266.35L973.4 266.67L973.6 266.39L974.1 264.23L974.5 263.54L974.9 262.52L975.1 262.6L975.4 262.94L975.9 263.7L976.1 263.79L976.3 263.66L976.4 263.76L976.9 266.35L977.1 266.68L977.5 266.24L977.9 266.47L978.3 265.69L978.4 265.67L978.7 265.96L979.1 265.47L979.5 265.94L979.9 265.21L980.4 266.68L980.5 266.79L980.6 266.77L981.4 264.56L981.5 264.55L981.6 264.7L982 265.72L982.2 265.9L982.8 264.55L983 264.34L983.2 264.51L983.6 265.96L983.8 266.29L983.9 266.25L984.3 265.49L984.6 265.73L984.8 265.61L985.4 263.67L985.5 263.69L985.7 264.15L986.4 266.87L986.5 266.94L986.6 266.84L987.1 265.98L987.2 265.92L987.3 265.98L987.8 267.03L988.3 267.46L988.6 268.23L988.9 268.65L989 268.67L989.1 268.54L989.5 267.38L989.9 266.87L990.2 266.28L990.4 266.19L990.6 266.4" fill="none" stroke="#000" stroke-width="1.7" stroke-linejoin="round" stroke-linecap="round"/>
<g stroke="#8a8a8a" stroke-width="1" fill="none">
<rect x="651.4" y="75.8" width="339.2" height="195.2" stroke="#a2a2a2" stroke-width="1.5"/>
<path d="M751 271v-3.4M751 75.8v3.4M850.7 271v-3.4M850.7 75.8v3.4M950.4 271v-3.4M950.4 75.8v3.4M651.4 267.25h3.4M990.6 267.25h-3.4M651.4 228.93h3.4M990.6 228.93h-3.4M651.4 190.61h3.4M990.6 190.61h-3.4M651.4 152.29h3.4M990.6 152.29h-3.4M651.4 113.97h3.4M990.6 113.97h-3.4"/>
</g>
<g font-family="'Liberation Sans', Arial, Helvetica, sans-serif" font-size="15.3" fill="#1f1f1f" stroke="#1f1f1f" stroke-width="0.3">
<g text-anchor="middle">
<text x="651.3" y="288.1">2.5</text>
<text x="751" y="288.1">2</text>
<text x="850.7" y="288.1">1.5</text>
<text x="950.4" y="288.1">1</text>
</g>
<g text-anchor="end">
<text x="647.6" y="272.45">0</text>
<text x="647.6" y="234.13">2</text>
<text x="647.6" y="195.81">4</text>
<text x="647.6" y="157.49">6</text>
<text x="647.6" y="119.17">8</text>
<text x="647.6" y="80.85">10</text>
</g>
<text x="651" y="70.6">x 10<tspan dy="-9.7" font-size="9.9">4</tspan></text>
</g>
<g font-family="'Liberation Sans', Arial, Helvetica, sans-serif" font-size="15.3" fill="#d0a060" stroke="#d0a060" stroke-width="0.3">
<text x="653" y="239.7">pyruvate</text>
<text x="750.7" y="138.1">quinic acid</text>
<text x="810.5" y="215">alanine</text>
<text x="878.6" y="100">lactate</text>
<text x="935" y="243.6">valine</text>
</g>
<text x="951" y="100.2" font-family="'Liberation Sans', Arial, Helvetica, sans-serif" font-size="17" fill="#1414ff" stroke="#1414ff" stroke-width="0.3">x100</text>
</g>
<g font-family="'Liberation Sans', Arial, Helvetica, sans-serif" font-size="15.3" fill="#d0a060" stroke="#d0a060" stroke-width="0.3">
<text x="390.4" y="427.2">sucrose</text>
<text transform="translate(417.3 385.4) scale(1.14 1.04)" font-family="'Liberation Serif', 'DejaVu Serif', serif" font-size="16.5">α</text>
<text x="427" y="385.4">-glucose</text>
<text x="472" y="350.3"><tspan font-family="'Liberation Serif', 'DejaVu Serif', serif" font-size="16">β</tspan>-glucose</text>
<text x="481" y="488">glucose + fructose + sucrose</text>
</g>
</svg>
</body>
</html>
